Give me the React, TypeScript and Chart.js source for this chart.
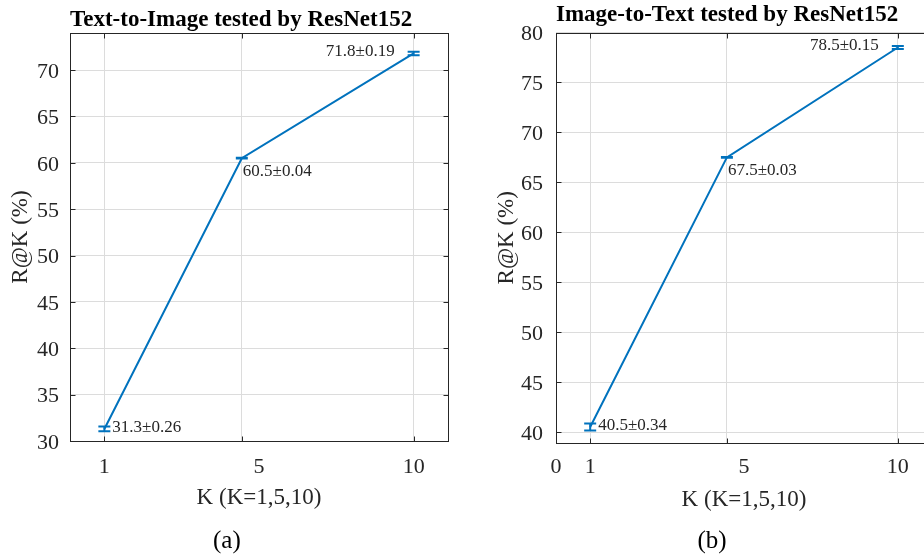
import { useEffect, useRef } from 'react';
import { Chart, registerables } from 'chart.js';

Chart.register(...registerables);

// Retrieval recall at K for the two directions (mean ± std over runs)
const kValues = [1, 5, 10];
const t2iRecall = [31.3, 60.5, 71.8];
const t2iStd = [0.26, 0.04, 0.19];
const i2tRecall = [40.5, 67.5, 78.5];
const i2tStd = [0.34, 0.03, 0.15];

// Axis ticks
const t2iYTicks = [30, 35, 40, 45, 50, 55, 60, 65, 70];
const i2tYTicks = [40, 45, 50, 55, 60, 65, 70, 75, 80];
const kGridTicks = [1, 5, 10];
const t2iKLabels = ['1', '5', '10'];
const t2iKLabelAt = [1, 5.5, 10];
const i2tKLabels = ['0', '1', '5', '10'];
const i2tKLabelAt = [0, 1, 5.5, 10];

// Where each value annotation sits relative to its point
const labelSide = ['right', 'below', 'left'];

const SERIF = "'Liberation Serif', 'Times New Roman', Times, serif";
const AXIS = '#262626';
const GRID = '#dcdcdc';
const BLUE = '#0072BD';
const HEIGHT = 556;

Chart.defaults.font.family = SERIF;

const PLACE: Record<string, { dx: number; dy: number; align: CanvasTextAlign }> = {
  right: { dx: 8, dy: -1, align: 'left' },
  below: { dx: 1, dy: 13.5, align: 'left' },
  left: { dx: -19, dy: -2, align: 'right' },
};

const crisp = (v: number) => Math.round(v) + 0.5;

// Axes box with inward tick marks on all four sides
const boxPlugin = {
  id: 'matlabBox',
  afterDatasetsDraw(chart: any) {
    const { ctx, chartArea: a, scales } = chart;
    const l = crisp(a.left), r = crisp(a.right), t = crisp(a.top), b = crisp(a.bottom);
    const len = 5;
    ctx.save();
    ctx.strokeStyle = AXIS;
    ctx.lineWidth = 1;
    ctx.strokeRect(l, t, r - l, b - t);
    ctx.beginPath();
    for (const tk of scales.y.ticks) {
      const py = crisp(scales.y.getPixelForValue(tk.value));
      ctx.moveTo(l, py); ctx.lineTo(l + len, py);
      ctx.moveTo(r, py); ctx.lineTo(r - len, py);
    }
    for (const tk of scales.x.ticks) {
      const px = crisp(scales.x.getPixelForValue(tk.value));
      ctx.moveTo(px, b); ctx.lineTo(px, b - len);
      ctx.moveTo(px, t); ctx.lineTo(px, t + len);
    }
    ctx.stroke();
    ctx.restore();
  },
};

// Vertical error bars with caps, plus the "mean±std" annotation for each point
const errorBarPlugin = {
  id: 'errBars',
  afterDatasetsDraw(chart: any, _args: any, opts: any) {
    const { ctx } = chart;
    const xs = chart.scales.x;
    const ys = chart.scales.y;
    const pts = chart.data.datasets[0].data as { x: number; y: number }[];
    const cap = 6;
    ctx.save();
    pts.forEach((p, i) => {
      const sd = opts.std[i];
      const x = xs.getPixelForValue(p.x);
      const yHi = ys.getPixelForValue(p.y + sd);
      const yLo = ys.getPixelForValue(p.y - sd);
      ctx.strokeStyle = BLUE;
      ctx.lineWidth = 2;
      ctx.beginPath();
      ctx.moveTo(x, yHi); ctx.lineTo(x, yLo);
      ctx.moveTo(x - cap, yHi); ctx.lineTo(x + cap, yHi);
      ctx.moveTo(x - cap, yLo); ctx.lineTo(x + cap, yLo);
      ctx.stroke();

      const place = PLACE[opts.side[i]];
      ctx.fillStyle = AXIS;
      ctx.font = `17px ${SERIF}`;
      ctx.textAlign = place.align;
      ctx.textBaseline = 'middle';
      ctx.fillText(`${p.y.toFixed(1)}±${sd.toFixed(2)}`, x + place.dx, ys.getPixelForValue(p.y) + place.dy);
    });
    ctx.restore();
  },
};

// Sub-figure caption under the panel
const captionPlugin = {
  id: 'caption',
  afterDraw(chart: any, _args: any, opts: any) {
    const { ctx, chartArea: a } = chart;
    ctx.save();
    ctx.fillStyle = '#000';
    ctx.font = `25px ${SERIF}`;
    ctx.textAlign = 'center';
    ctx.textBaseline = 'middle';
    ctx.fillText(opts.text, a.left + 0.415 * (a.right - a.left), chart.height - 15);
    ctx.restore();
  },
};

type PanelSpec = {
  title: string;
  caption: string;
  recall: number[];
  std: number[];
  yMin: number;
  yMax: number;
  yTicks: number[];
  kLabels: string[];
  kLabelAt: number[];
  width: number;
  yAxisW: number;
  padRight: number;
  xAxisH: number;
  titlePad: { top: number; bottom: number };
  yTickPad: number;
  yTitlePad: number;
  xTickPad: number;
  xTitlePad: number;
};

const tickFont = { family: SERIF, size: 22 };
const axisTitleFont = { family: SERIF, size: 23 };

function makeConfig(p: PanelSpec): any {
  return {
    type: 'line',
    data: {
      datasets: [
        {
          data: kValues.map((k, i) => ({ x: k, y: p.recall[i] })),
          borderColor: BLUE,
          borderWidth: 2,
          pointRadius: 0,
          tension: 0,
          fill: false,
        },
      ],
    },
    plugins: [boxPlugin, errorBarPlugin, captionPlugin],
    options: {
      responsive: false,
      animation: false,
      events: [],
      layout: { padding: { left: 0, right: p.padRight, top: 0, bottom: 0 } },
      plugins: {
        legend: { display: false },
        tooltip: { enabled: false },
        title: {
          display: true,
          text: p.title,
          align: 'start',
          fullSize: false,
          color: '#000',
          font: { family: SERIF, size: 23, weight: 'bold', lineHeight: 1 },
          padding: p.titlePad,
        },
        errBars: { std: p.std, side: labelSide },
        caption: { text: p.caption },
      },
      scales: {
        x: {
          type: 'linear',
          position: 'bottom',
          min: 0,
          max: 11,
          afterBuildTicks: (s: any) => {
            s.ticks = kGridTicks.map((v) => ({ value: v }));
          },
          ticks: { display: false },
          grid: { color: GRID, drawTicks: false },
          border: { display: false },
          afterFit: (s: any) => {
            s.height = 0;
          },
        },
        xl: {
          type: 'linear',
          position: 'bottom',
          min: 0,
          max: 11,
          afterBuildTicks: (s: any) => {
            s.ticks = p.kLabelAt.map((v) => ({ value: v }));
          },
          ticks: {
            callback: (_v: any, i: number) => p.kLabels[i],
            font: tickFont,
            color: AXIS,
            padding: p.xTickPad,
            maxRotation: 0,
            autoSkip: false,
          },
          grid: { display: false, drawTicks: false },
          border: { display: false },
          title: {
            display: true,
            text: 'K (K=1,5,10)',
            color: AXIS,
            font: axisTitleFont,
            padding: { top: 0, bottom: p.xTitlePad },
          },
          afterFit: (s: any) => {
            s.height = p.xAxisH;
          },
        },
        y: {
          type: 'linear',
          position: 'left',
          min: p.yMin,
          max: p.yMax,
          afterBuildTicks: (s: any) => {
            s.ticks = p.yTicks.map((v) => ({ value: v }));
          },
          ticks: { font: tickFont, color: AXIS, padding: p.yTickPad, labelOffset: 2 },
          grid: { color: GRID, drawTicks: false },
          border: { display: false },
          title: {
            display: true,
            text: 'R@K (%)',
            color: AXIS,
            font: axisTitleFont,
            padding: { top: p.yTitlePad, bottom: 0 },
          },
          afterFit: (s: any) => {
            s.width = p.yAxisW;
          },
        },
      },
    },
  };
}

const textToImage: PanelSpec = {
  title: 'Text-to-Image tested by ResNet152',
  caption: '(a)',
  recall: t2iRecall,
  std: t2iStd,
  yMin: 30,
  yMax: 74,
  yTicks: t2iYTicks,
  kLabels: t2iKLabels,
  kLabelAt: t2iKLabelAt,
  width: 470,
  yAxisW: 70,
  padRight: 22,
  xAxisH: 115,
  titlePad: { top: 9, bottom: 1 },
  yTickPad: 11,
  yTitlePad: 7.5,
  xTickPad: 13.5,
  xTitlePad: 44,
};

const imageToText: PanelSpec = {
  title: 'Image-to-Text tested by ResNet152',
  caption: '(b)',
  recall: i2tRecall,
  std: i2tStd,
  yMin: 38.9,
  yMax: 80,
  yTicks: i2tYTicks,
  kLabels: i2tKLabels,
  kLabelAt: i2tKLabelAt,
  width: 490,
  yAxisW: 86,
  padRight: 28,
  xAxisH: 113,
  titlePad: { top: 3.5, bottom: 6 },
  yTickPad: 13,
  yTitlePad: 23,
  xTickPad: 11.5,
  xTitlePad: 42,
};

function Panel({ spec, left }: { spec: PanelSpec; left: number }) {
  const ref = useRef<HTMLCanvasElement>(null);
  useEffect(() => {
    const chart = new Chart(ref.current as HTMLCanvasElement, makeConfig(spec));
    return () => chart.destroy();
  }, [spec]);
  return (
    <canvas
      ref={ref}
      width={spec.width}
      height={HEIGHT}
      style={{ position: 'absolute', left, top: 0, width: spec.width, height: HEIGHT }}
    />
  );
}

export default function App() {
  return (
    <div
      style={{
        position: 'fixed',
        left: 0,
        top: 0,
        width: 924,
        height: HEIGHT,
        overflow: 'hidden',
        background: '#fff',
      }}
    >
      <Panel spec={textToImage} left={0} />
      <Panel spec={imageToText} left={470} />
    </div>
  );
}
